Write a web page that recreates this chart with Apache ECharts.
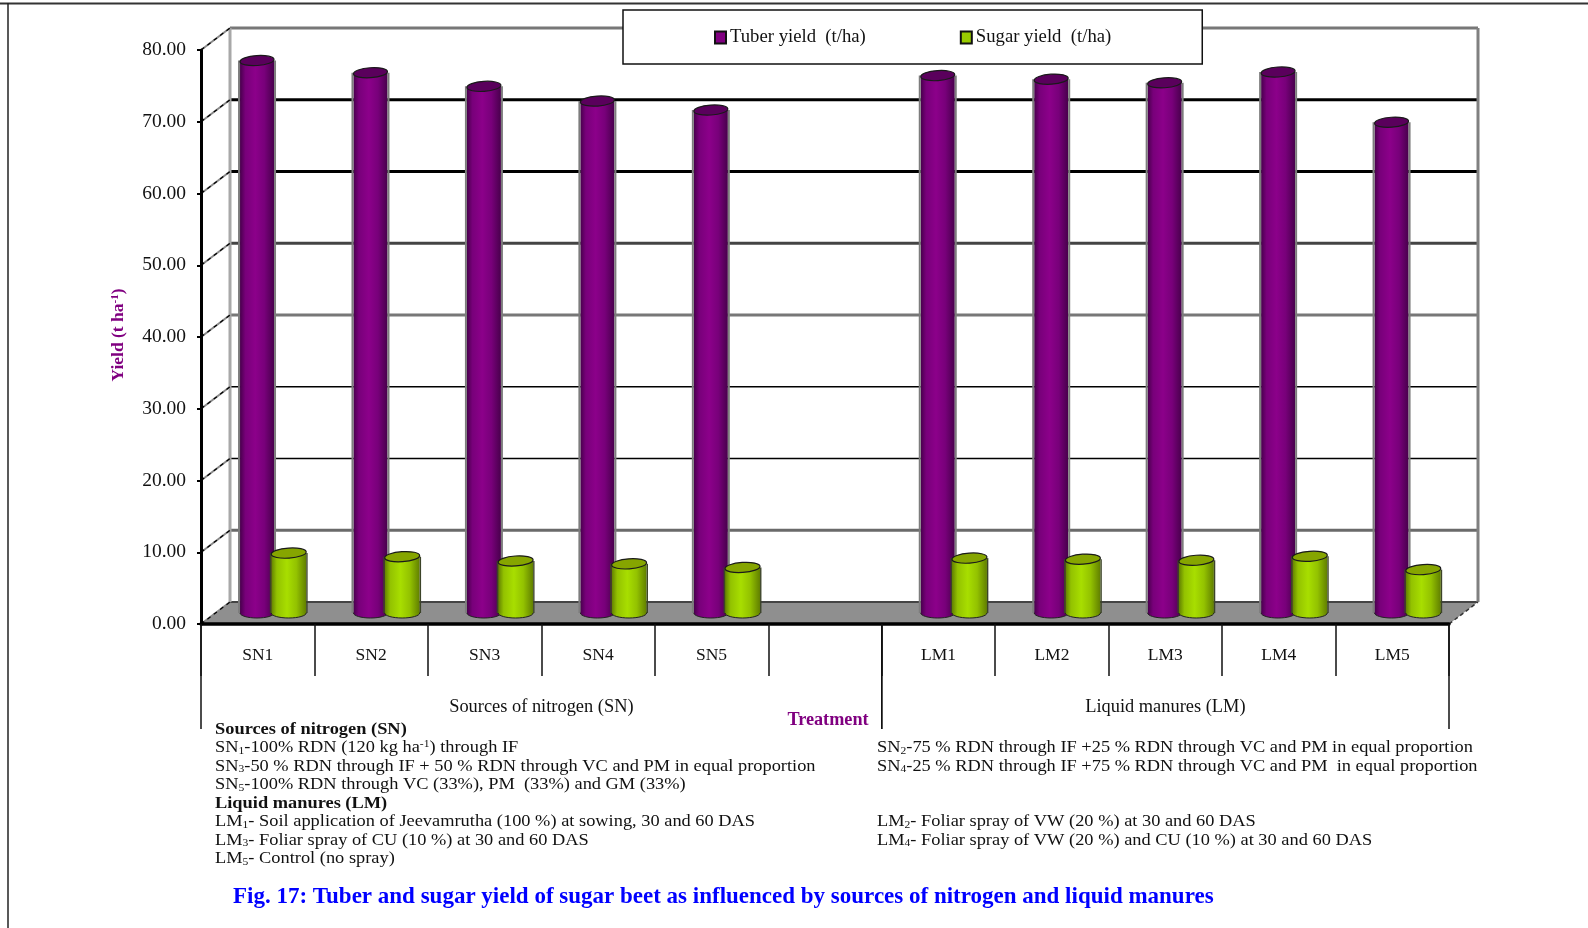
<!DOCTYPE html>
<html>
<head>
<meta charset="utf-8">
<title>Tuber and sugar yield of sugar beet</title>
<style>html,body{margin:0;padding:0;background:#fff}#chart{width:1588px;height:928px}</style>
<script src="https://cdn.jsdelivr.net/npm/echarts@6/dist/echarts.min.js"></script>
</head>
<body>
<div id="chart"></div>
<script>
// Treatments along the floor; the empty slot separates the two factor groups.
const categories = ['SN1','SN2','SN3','SN4','SN5','','LM1','LM2','LM3','LM4','LM5'];
const tuberYield = [77.0,75.3,73.4,71.35,70.1,null,74.9,74.4,73.9,75.4,68.4];
const sugarYield = [8.35,7.85,7.25,6.85,6.35,null,7.65,7.5,7.35,7.9,6.05];
const yTicks = [0,10,20,30,40,50,60,70,80];
const groups = [
  {name:'Sources of nitrogen (SN)', from:0, to:5},
  {name:'Liquid manures (LM)', from:6, to:10}
];
const notesLeft = [
  '{b|Sources of nitrogen (SN)}',
  'SN{s|1}-100% RDN (120 kg ha{u|-1}) through IF',
  'SN{s|3}-50 % RDN through IF + 50 % RDN through VC and PM in equal proportion',
  'SN{s|5}-100% RDN through VC (33%), PM  (33%) and GM (33%)',
  '{b|Liquid manures (LM)}',
  'LM{s|1}- Soil application of Jeevamrutha (100 %) at sowing, 30 and 60 DAS',
  'LM{s|3}- Foliar spray of CU (10 %) at 30 and 60 DAS',
  'LM{s|5}- Control (no spray)'
];
const notesRight = [
  '',
  'SN{s|2}-75 % RDN through IF +25 % RDN through VC and PM in equal proportion',
  'SN{s|4}-25 % RDN through IF +75 % RDN through VC and PM  in equal proportion',
  '',
  '',
  'LM{s|2}- Foliar spray of VW (20 %) at 30 and 60 DAS',
  'LM{s|4}- Foliar spray of VW (20 %) and CU (10 %) at 30 and 60 DAS',
  ''
];
const caption = 'Fig. 17: Tuber and sugar yield of sugar beet as influenced by sources of nitrogen and liquid manures';

const SERIF = '"Liberation Serif","Times New Roman",serif';
const INK = '#111';
const PURPLE = '#800080';
const LIME = '#99cc00';

// Pseudo-3D box: the back wall sits up and to the right of the front plane by this much.
const DEPTH_X = 29, DEPTH_Y = -22;
const FRONT = {left:201, top:50, width:1248, height:574};

// Back-wall rule weights, listed from the 0 tick upward.
const WALL_COLORS = ['#444','#6a6a6a','#000','#000','#777','#444','#000','#000','#777'];
const WALL_WIDTHS = [2,3,1.6,1.6,3,3,3,3,3];

const rich = {
  b:{font:'bold 17.5px '+SERIF, fill:INK},
  s:{font:'11px '+SERIF, fill:INK, verticalAlign:'bottom', padding:[6,0,0,0]},
  u:{font:'11px '+SERIF, fill:INK, verticalAlign:'top', padding:[0,0,6,0]}
};

function noteElements(lines, x) {
  const out = [];
  lines.forEach(function (t, i) {
    if (!t) return;
    out.push({
      type:'text', x:x, y:729 + i*18.5, scaleX:1.05, silent:true,
      style:{text:t, font:'17.5px '+SERIF, fill:INK, verticalAlign:'middle', rich:rich}
    });
  });
  return out;
}

// One cylinder: bottom cap, shaded body, side rims and tilted lid.
function cylinderItem(params, api, opt) {
  const idx = api.value(0), val = api.value(1);
  if (val == null || isNaN(val)) return;
  const top = api.coord([idx, val]);
  const base = api.coord([idx, 0]);
  const cx = top[0] + DEPTH_X/2 + opt.shift;
  const yTop = top[1] + DEPTH_Y/2;
  const yBase = base[1] + DEPTH_Y/2;
  const rx = opt.rx, ry = 5;
  const fill = new echarts.graphic.LinearGradient(0,0,1,0,[
    {offset:0,color:opt.edge},{offset:0.16,color:opt.mid},{offset:0.45,color:opt.light},
    {offset:0.72,color:opt.mid},{offset:1,color:opt.edge}
  ]);
  const rim = {stroke:opt.rim, lineWidth:opt.rimWidth, fill:null};
  const off = rx + opt.rimWidth/2;
  return {type:'group', children:[
    {type:'ellipse', shape:{cx:cx,cy:yBase,rx:rx,ry:ry},
      style:{fill:fill, stroke:'#222', lineWidth:1}},
    {type:'rect', shape:{x:cx-rx,y:yTop,width:rx*2,height:yBase-yTop},
      style:{fill:fill}},
    {type:'line', shape:{x1:cx-off,y1:yTop,x2:cx-off,y2:yBase}, style:rim},
    {type:'line', shape:{x1:cx+off,y1:yTop,x2:cx+off,y2:yBase}, style:rim},
    {type:'ellipse', shape:{cx:cx,cy:yTop,rx:rx,ry:ry},
      rotation:0.07, originX:cx, originY:yTop,
      style:{fill:opt.lid, stroke:'#1a1a1a', lineWidth:1.2}}
  ]};
}

// Back wall, side-wall connectors, right edge and floor of the box.
function boxItem(params, api) {
  const zeroL = api.coord([0,0]);
  const band = api.size([1,0])[0];
  const xL = zeroL[0] - band/2;
  const xR = xL + band*categories.length;
  const y0 = zeroL[1];
  const yMax = api.coord([0,yTicks[yTicks.length-1]])[1];
  const children = [];
  yTicks.forEach(function (t, i) {
    const y = api.coord([0,t])[1];
    children.push({type:'line', shape:{x1:xL+DEPTH_X,y1:y+DEPTH_Y,x2:xR+DEPTH_X,y2:y+DEPTH_Y},
      style:{stroke:WALL_COLORS[i],lineWidth:WALL_WIDTHS[i]}});
  });
  children.push(
    {type:'polygon', shape:{points:[[xL,y0],[xR,y0],[xR+DEPTH_X,y0+DEPTH_Y],[xL+DEPTH_X,y0+DEPTH_Y]]},
      style:{fill:'#8f8f8f'}},
    {type:'line', shape:{x1:xL+DEPTH_X,y1:y0+DEPTH_Y,x2:xR+DEPTH_X,y2:y0+DEPTH_Y}, style:{stroke:'#444',lineWidth:2}},
    {type:'line', shape:{x1:xL+DEPTH_X,y1:yMax+DEPTH_Y,x2:xL+DEPTH_X,y2:y0+DEPTH_Y}, style:{stroke:'#a8a8a8',lineWidth:3}},
    {type:'line', shape:{x1:xR+DEPTH_X,y1:yMax+DEPTH_Y,x2:xR+DEPTH_X,y2:y0+DEPTH_Y}, style:{stroke:'#808080',lineWidth:3}},
    {type:'line', shape:{x1:xR,y1:y0,x2:xR+DEPTH_X,y2:y0+DEPTH_Y}, style:{stroke:'#333',lineWidth:1.5,lineDash:[4,3]}}
  );
  yTicks.forEach(function (t) {
    const y = api.coord([0,t])[1];
    children.push({type:'line', shape:{x1:xL,y1:y,x2:xL+DEPTH_X,y2:y+DEPTH_Y},
      style:{stroke:'#8a8a8a',lineWidth:2}});
    children.push({type:'line', shape:{x1:xL,y1:y,x2:xL+DEPTH_X,y2:y+DEPTH_Y},
      style:{stroke:'#000',lineWidth:1.2,lineDash:[4,4]}});
  });
  return {type:'group', children:children};
}

// Long separators and captions under each factor group.
function groupItem(params, api) {
  const g = groups[params.dataIndex];
  const band = api.size([1,0])[0];
  const y0 = api.coord([0,0])[1];
  const left = api.coord([g.from,0])[0] - band/2;
  const right = api.coord([g.to,0])[0] + band/2;
  const line = function (x) {
    return {type:'line', shape:{x1:x,y1:y0,x2:x,y2:y0+105}, style:{stroke:INK,lineWidth:1.5}};
  };
  return {type:'group', children:[
    line(left), line(right),
    {type:'text', x:(left+right)/2, y:y0+83,
      style:{text:g.name, font:'18.4px '+SERIF, fill:INK, align:'center', verticalAlign:'middle'}}
  ]};
}

const chart = echarts.init(document.getElementById('chart'), null, {renderer:'canvas'});
chart.setOption({
  animation:false,
  backgroundColor:'#fff',
  title:{
    text:caption, left:233, top:886, padding:0,
    textStyle:{color:'#0000ff', fontFamily:SERIF, fontWeight:'bold', fontSize:23}
  },
  legend:{
    left:623, top:10, padding:[18,91,17,91], itemGap:94,
    itemWidth:11, itemHeight:12, icon:'rect',
    backgroundColor:'#fff', borderColor:'#111', borderWidth:1.5, borderRadius:0, z:20,
    textStyle:{fontFamily:SERIF, fontSize:18.7, color:INK, padding:[1,0,0,-1]},
    data:['Tuber yield  (t/ha)','Sugar yield  (t/ha)']
  },
  grid:{left:FRONT.left, top:FRONT.top, width:FRONT.width, height:FRONT.height},
  xAxis:{
    type:'category', data:categories, z:6,
    axisLine:{lineStyle:{color:'#000',width:3.5}},
    axisTick:{show:true,interval:0,length:52,lineStyle:{color:INK,width:1.5}},
    axisLabel:{interval:0,fontFamily:SERIF,fontSize:17.5,color:INK,margin:22},
    name:'Treatment', nameLocation:'middle', nameGap:87,
    nameTextStyle:{fontFamily:SERIF,fontSize:18.2,fontWeight:'bold',color:PURPLE,padding:[0,0,0,6]}
  },
  yAxis:{
    type:'value', min:0, max:80, interval:10, z:6,
    axisLine:{show:true,lineStyle:{color:'#000',width:3}},
    axisTick:{show:true,length:4,lineStyle:{color:'#000',width:2}},
    splitLine:{show:false},
    axisLabel:{fontFamily:SERIF,fontSize:19.5,color:INK,margin:15,padding:[3,0,0,0],
      formatter:function (v) { return v.toFixed(2); }}
  },
  graphic:{elements:[
    {type:'line', shape:{x1:0,y1:3.5,x2:1588,y2:3.5}, style:{stroke:'#333',lineWidth:2}, silent:true},
    {type:'line', shape:{x1:8,y1:3,x2:8,y2:928}, style:{stroke:'#222',lineWidth:1.5}, silent:true},
    {type:'text', x:118.5, y:335, rotation:Math.PI/2, silent:true,
     style:{text:'Yield (t ha{u|-1})', font:'bold 17.5px '+SERIF, fill:PURPLE, align:'center', verticalAlign:'middle',
       rich:{u:{font:'bold 11px '+SERIF, fill:PURPLE, verticalAlign:'top'}}}}
  ].concat(noteElements(notesLeft,215), noteElements(notesRight,877))},
  series:[
    {type:'custom', name:'box', z:1, silent:true, data:[[0,0]], renderItem:boxItem},
    {type:'custom', name:'Tuber yield  (t/ha)', z:3,
     itemStyle:{color:PURPLE, borderColor:'#111', borderWidth:1},
     data:tuberYield.map(function (v,i){return [i,v];}),
     encode:{x:0,y:1},
     renderItem:function (p,a){return cylinderItem(p,a,{
       shift:-15.2, rx:17, rim:'#7d7d7d', rimWidth:2,
       edge:'#48004c', mid:'#78007a', light:'#8c008a', lid:'#5a005c'});}},
    {type:'custom', name:'Sugar yield  (t/ha)', z:4,
     itemStyle:{color:LIME, borderColor:'#111', borderWidth:1},
     data:sugarYield.map(function (v,i){return [i,v];}),
     encode:{x:0,y:1},
     renderItem:function (p,a){return cylinderItem(p,a,{
       shift:16.5, rx:17.5, rim:'#3c4428', rimWidth:1.4,
       edge:'#617f00', mid:'#93c200', light:'#a8de00', lid:'#86a500'});}},
    {type:'custom', name:'groups', z:5, silent:true, clip:false,
     data:groups.map(function (g,i){return [i,0];}), renderItem:groupItem}
  ]
});
</script>
</body>
</html>
